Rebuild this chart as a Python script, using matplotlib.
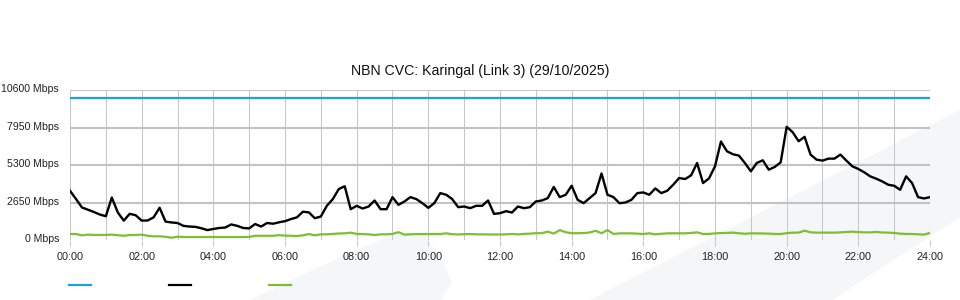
import numpy as np
import matplotlib
matplotlib.use("Agg")
import matplotlib.pyplot as plt
from matplotlib.patches import Polygon
from matplotlib.lines import Line2D
from matplotlib.transforms import ScaledTranslation

plt.rcParams['font.family'] = ['Liberation Sans', 'DejaVu Sans']

title = "NBN CVC: Karingal (Link 3) (29/10/2025)"
y_ticks = [0, 2650, 5300, 7950, 10600]
y_tick_labels = ["0 Mbps", "2650 Mbps", "5300 Mbps", "7950 Mbps", "10600 Mbps"]
x_tick_hours = list(range(0, 25, 2))
x_tick_labels = ["%02d:00" % h for h in x_tick_hours]

# 10-minute samples, 00:00 .. 24:00 (145 points)
capacity_mbps = 10000
traffic_black = [
    3480, 2900, 2300, 2140, 1980, 1800, 1680, 3000, 1950, 1370, 1850, 1750,   # 00-02
    1370, 1380, 1600, 2280, 1300, 1240, 1200, 1000, 950, 930, 830, 700,       # 02-04
    780, 850, 880, 1100, 1000, 850, 820, 1130, 950, 1200, 1150, 1250,         # 04-06
    1330, 1480, 1600, 2000, 1950, 1540, 1657, 2414, 2888, 3598, 3800, 2177,   # 06-08
    2414, 2225, 2367, 2793, 2177, 2177, 3030, 2485, 2722, 3030, 2888, 2604,   # 08-10
    2272, 2604, 3314, 3196, 2888, 2320, 2367, 2249, 2414, 2414, 2793, 1846,   # 10-12
    1894, 2036, 1941, 2367, 2249, 2320, 2722, 2793, 2958, 3750, 3030, 3196,   # 12-14
    3834, 2840, 2604, 2958, 3314, 4700, 3196, 3030, 2600, 2651, 2840, 3314,   # 14-16
    3361, 3196, 3645, 3314, 3480, 3905, 4379, 4308, 4568, 5444, 4024, 4355,   # 16-18
    5207, 6959, 6273, 6060, 5965, 5444, 4852, 5444, 5633, 4970, 5160, 5491,   # 18-20
    8000, 7620, 6980, 7290, 6035, 5680, 5610, 5750, 5750, 6035, 5610, 5207,   # 20-22
    5018, 4781, 4497, 4331, 4142, 3905, 3834, 3550, 4497, 4024, 3030, 2935,   # 22-24
    3030,
]
traffic_green = [
    426, 420, 330, 380, 360, 355, 360, 380, 340, 300, 350, 355,
    380, 300, 260, 260, 230, 160, 230, 210, 210, 210, 210, 210,
    210, 210, 210, 210, 210, 210, 220, 300, 300, 300, 300, 340,
    310, 300, 280, 330, 420, 330, 400, 400, 430, 460, 470, 520,
    430, 420, 400, 355, 400, 400, 430, 550, 380, 400, 420, 420,
    426, 426, 426, 470, 410, 390, 410, 420, 400, 400, 390, 390,
    390, 400, 426, 400, 430, 450, 480, 480, 590, 450, 700, 550,
    480, 480, 490, 530, 650, 480, 700, 430, 470, 470, 470, 450,
    426, 473, 400, 440, 470, 473, 473, 473, 500, 540, 426, 430,
    470, 490, 500, 520, 480, 440, 473, 470, 460, 450, 426, 426,
    480, 520, 520, 660, 540, 520, 520, 520, 520, 540, 568, 590,
    560, 540, 540, 568, 530, 520, 500, 450, 426, 426, 400, 380,
    500,
]
hours = np.arange(len(traffic_black)) / 6.0

W, H = 960, 300
fig = plt.figure(figsize=(W / 100, H / 100), dpi=100)

def fx(px):
    return px / W

def fy(py):
    return 1 - py / H

# faint background watermark shapes, in a full-figure background axes
bg = fig.add_axes([0, 0, 1, 1], zorder=-5)
bg.set_xlim(0, W)
bg.set_ylim(H, 0)
bg.axis('off')
wm = '#f5f6f8'
shape1 = [(250, 300), (300, 276), (350, 253), (388, 237), (408, 232), (424, 236),
          (440, 256), (452, 283), (440, 300)]
shape2 = [(590, 300), (960, 110), (960, 217), (832, 300)]
for shp in (shape1, shape2):
    bg.add_patch(Polygon(shp, closed=True, facecolor=wm, edgecolor='none'))

ax = fig.add_axes([fx(70), fy(240), fx(930) - fx(70), fy(90) - fy(240)], zorder=1)
ax.patch.set_alpha(0)
for s in ax.spines.values():
    s.set_visible(False)

ax.set_xlim(0, 24)
ax.set_ylim(0, 10600)

grid_c = '#c8c8c8'
for h in range(25):
    ax.axvline(h, color=grid_c, lw=0.75, zorder=1)
for i, v in enumerate(y_ticks):
    edge = i in (0, len(y_ticks) - 1)
    ax.axhline(v, color=grid_c if edge else '#c2c2c2', lw=0.75 if edge else 1.5, zorder=1)

ax.set_xticks(x_tick_hours)
ax.set_xticklabels(x_tick_labels)
ax.set_yticks(y_ticks)
ax.set_yticklabels(y_tick_labels)
ax.tick_params(axis='x', length=4.3, width=0.75, color=grid_c, pad=4,
               labelsize=7.8, labelcolor='#222222')
ax.tick_params(axis='y', length=0, pad=8, labelsize=7.6, labelcolor='#222222')
shift = ScaledTranslation(0, 2 / 100, fig.dpi_scale_trans)
for lbl in ax.get_yticklabels():
    lbl.set_transform(lbl.get_transform() + shift)

ax.plot([0, 24], [capacity_mbps, capacity_mbps], color='#1aa3e0', lw=1.6, zorder=3)
ax.plot(hours, traffic_black, color='#000000', lw=1.7, zorder=4,
        solid_joinstyle='round')
ax.plot(hours, traffic_green, color='#7dbf2e', lw=1.6, zorder=3)

fig.text(0.5, fy(71), title, ha='center', va='center', fontsize=10.2,
         color='#111111')

# legend swatches (no labels)
for x0, c in ((69, '#1aa3e0'), (169, '#000000'), (269, '#7dbf2e')):
    bg.add_line(Line2D([x0, x0 + 22], [285, 285], color=c, lw=1.6))

fig.savefig('out.png', dpi=100)
